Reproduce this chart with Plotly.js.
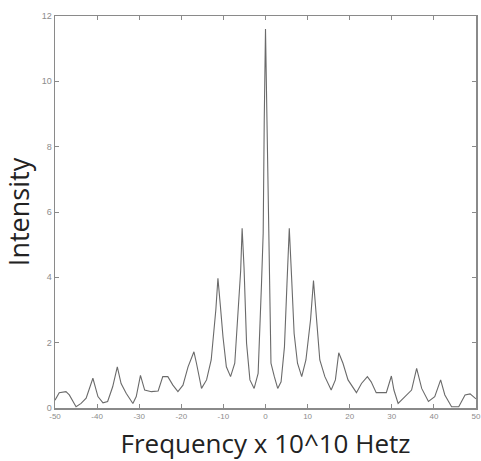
<!DOCTYPE html>
<html>
<head>
<meta charset="utf-8">
<script src="https://cdn.plot.ly/plotly-3.0.1.min.js"></script>
<style>html,body{margin:0;padding:0;background:#fff;}#chart{width:481px;height:461px;}</style>
</head>
<body>
<div id="chart"></div>
<script>
const freq = [-50, -49, -47.4, -46.6, -45, -43.8, -42.6, -41, -39.8, -38.6, -37.5, -36.3, -35.2, -34.3, -33.1, -31.5, -30.7, -29.7, -28.7, -27.1, -25.5,
  -24.4, -23.2, -22, -20.8, -19.6, -18.4, -17, -16.4, -15.2, -14, -12.9, -11.8, -11.3, -10.7, -10.1, -9.3, -8.3, -7.3, -6.4, -5.9, -5.55, -5.1, -4.5, -3.7, -2.7, -1.75, -0.95, -0.55, -0.3, 0,
  0.35, 0.6, 0.9, 1.3, 2.1, 2.9, 3.7, 4.5, 5.1, 5.65, 6.2, 6.8, 7.6, 8.6, 9.6, 10.7, 11.4, 11.9, 12.9, 14.1, 15.6, 16.6, 17.4, 18.4, 19.6, 21.6, 22.8, 24.2, 25.1, 26.3,
  28.7, 29.9, 30.5, 31.5, 33.1, 34.7, 35.9, 37.1, 38.7, 40.2, 41.6, 42.6, 44.2, 45.9, 47.4, 48.6, 50];
const intensity = [0.24, 0.47, 0.5, 0.4, 0.04, 0.14, 0.3, 0.91, 0.35, 0.16, 0.2, 0.65, 1.26, 0.75, 0.45, 0.14, 0.35, 1.0, 0.55, 0.5, 0.52,
  0.96, 0.96, 0.7, 0.5, 0.7, 1.26, 1.72, 1.37, 0.6, 0.86, 1.47, 3.0, 3.97, 3.1, 2.18, 1.26, 0.96, 1.37, 3.2, 4.2, 5.5, 4.3, 1.98, 0.86, 0.6, 1.06, 3.8, 5.35, 8.8, 11.6,
  8.8, 6.4, 4.3, 1.37, 0.96, 0.6, 0.8, 1.87, 3.8, 5.5, 4.0, 2.28, 1.37, 0.96, 1.47, 2.7, 3.9, 3.1, 1.47, 0.96, 0.55, 0.86, 1.69, 1.37, 0.86, 0.47, 0.75, 0.96, 0.8, 0.47,
  0.47, 0.98, 0.55, 0.14, 0.35, 0.55, 1.21, 0.6, 0.2, 0.35, 0.86, 0.4, 0.04, 0.04, 0.4, 0.43, 0.28];
const xTicks = [-50, -40, -30, -20, -10, 0, 10, 20, 30, 40, 50];
const yTicks = [0, 2, 4, 6, 8, 10, 12];
const xTitle = 'Frequency x 10^10 Hetz';
const yTitle = 'Intensity';

const trace = {
  x: freq, y: intensity, type: 'scatter', mode: 'lines',
  line: {color: '#6a6a6a', width: 1.1}, hoverinfo: 'skip'
};
const axisCommon = {
  showgrid: false, zeroline: false, showline: true, linecolor: '#8a8a8a', linewidth: 1.5,
  mirror: 'ticks', ticks: 'inside', ticklen: 4, tickcolor: '#8a8a8a', tickwidth: 1
};
const layout = {
  width: 481, height: 461,
  margin: {l: 55, r: 5, t: 16, b: 53},
  paper_bgcolor: '#ffffff', plot_bgcolor: '#ffffff',
  showlegend: false,
  xaxis: Object.assign({}, axisCommon, {
    range: [-50, 50], tickvals: xTicks, ticktext: xTicks.map(String),
    tickfont: {family: 'Liberation Sans, Arial, sans-serif', size: 8, color: '#8c8c8c'},
    title: {text: xTitle, font: {family: 'Open Sans, sans-serif', size: 26, color: '#222222'}, standoff: 15}
  }),
  yaxis: Object.assign({}, axisCommon, {
    range: [0, 12], tickvals: yTicks, ticktext: yTicks.map(String),
    tickfont: {family: 'Liberation Sans, Arial, sans-serif', size: 9, color: '#8c8c8c'},
    title: {text: yTitle, font: {family: 'Open Sans, sans-serif', size: 27, color: '#222222'}, standoff: 13}
  })
};
Plotly.newPlot('chart', [trace], layout, {displayModeBar: false, staticPlot: true});
</script>
</body>
</html>
